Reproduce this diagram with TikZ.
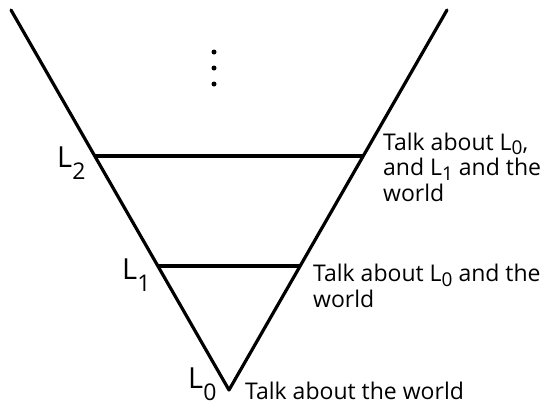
\documentclass[tikz,border=0pt]{standalone}
\usepackage{fontspec}
\setmainfont{Open Sans}
\usetikzlibrary{calc}
\newcommand\mysub[1]{\raisebox{-0.2em}{\fontsize{19}{19}\selectfont #1}}
\newcommand\lsub[1]{\raisebox{-0.42em}{\fontsize{23}{23}\selectfont #1}}
\tikzset{
  edge/.style={line width=3.2pt, line cap=round, line join=round},
  rung/.style={line width=3.2pt},
  desc/.style={font=\fontsize{23}{25.5}\selectfont, inner sep=0pt, align=left, anchor=base west},
  lvl/.style={font=\fontsize{29}{29}\selectfont, inner sep=0pt, anchor=base west},
  vdot/.style={fill=black, circle, inner sep=0pt, minimum size=5pt}
}
\begin{document}
\begin{tikzpicture}[x=1pt,y=-1pt]
\useasboundingbox (0,0) rectangle (545,405);
\coordinate (lt) at (11,10);
\coordinate (rt) at (447,10);
\coordinate (v) at (229,390);
\draw[edge] (lt) -- (v) -- (rt);
\coordinate (a2) at ($(lt)!0.3842!(v)$);
\coordinate (b2) at ($(rt)!0.3842!(v)$);
\coordinate (a1) at ($(lt)!0.6737!(v)$);
\coordinate (b1) at ($(rt)!0.6737!(v)$);
\draw[rung] (a2) -- (b2);
\draw[rung] (a1) -- (b1);
\node[vdot] (d1) at (214,52) {};
\node[vdot] (d2) at (214,68) {};
\node[vdot] (d3) at (214,84) {};
\node[lvl] (L2) at (57,167) {L\lsub{2}};
\node[lvl] (L1) at (122,279) {L\lsub{1}};
\node[lvl] (L0) at (188,388) {L\lsub{0}};
\node[desc] (t2) at (383,201) {Talk about L\mysub{0},\\and L\mysub{1} and the\\world};
\node[desc] (t1) at (313,307) {Talk about L\mysub{0} and the\\world};
\node[desc] (t0) at (245,399) {Talk about the world};
\end{tikzpicture}
\end{document}
